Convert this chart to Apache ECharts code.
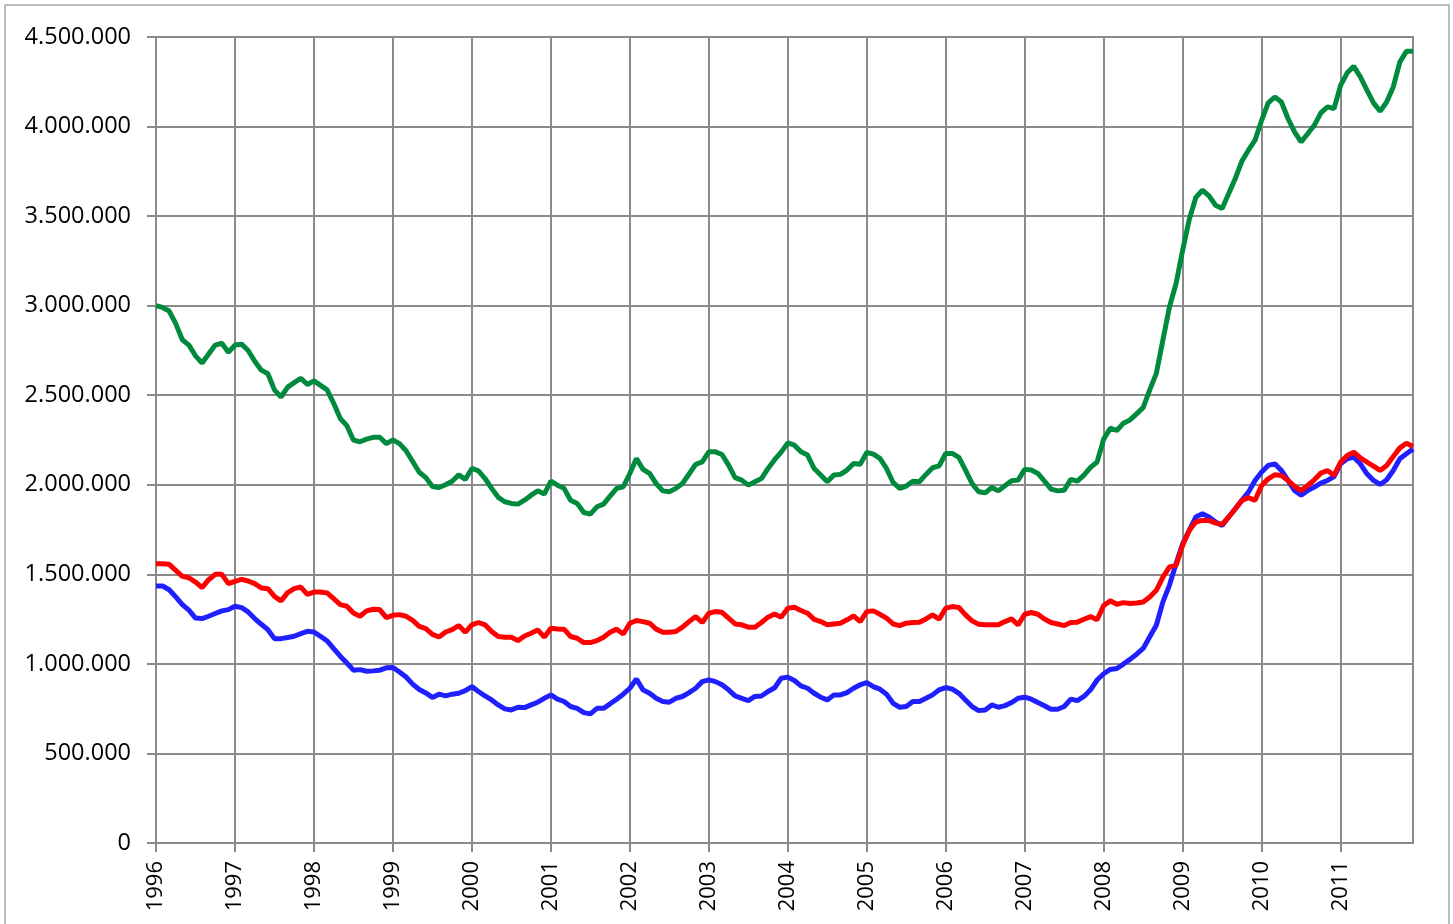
<!DOCTYPE html>
<html>
<head>
<meta charset="utf-8">
<script src="https://cdn.jsdelivr.net/npm/echarts@6/dist/echarts.min.js"></script>
<style>
html,body{margin:0;padding:0;background:#fff;}
#c{width:1453px;height:924px;}
</style>
</head>
<body>
<div id="c"></div>
<script>
// Monthly data, Jan 1996 .. Dec 2011 (values in thousands)
const startYear = 1996;
const endYear = 2011;

const greenSeries = [
3000,2990,2970,2900,2810,2780,2720,2680,2730,2780,2790,2740,
2780,2785,2750,2690,2640,2620,2530,2490,2545,2570,2595,2560,
2580,2555,2530,2455,2370,2330,2250,2240,2255,2265,2265,2230,
2250,2230,2190,2130,2070,2040,1990,1985,2000,2020,2055,2030,
2091,2078,2035,1980,1930,1905,1896,1892,1914,1942,1966,1948,
2020,1998,1980,1914,1896,1845,1836,1877,1892,1937,1980,1989,
2063,2147,2086,2063,2007,1966,1961,1980,2007,2060,2114,2128,
2184,2184,2169,2110,2040,2026,1998,2017,2035,2091,2140,2182,
2234,2221,2184,2166,2091,2054,2017,2054,2058,2082,2119,2115,
2180,2171,2147,2091,2013,1980,1993,2020,2017,2058,2095,2106,
2175,2175,2153,2082,2007,1961,1955,1985,1966,1994,2022,2026,
2086,2082,2063,2020,1976,1966,1970,2030,2020,2054,2097,2127,
2255,2316,2303,2344,2362,2396,2431,2530,2622,2808,2994,3124,
3310,3481,3604,3645,3613,3561,3543,3626,3710,3807,3868,3924,
4035,4132,4165,4137,4045,3970,3914,3960,4007,4076,4110,4100,
4230,4300,4336,4277,4203,4132,4085,4137,4221,4360,4420,4420
];

const redSeries = [
1559,1559,1556,1522,1489,1481,1457,1426,1470,1500,1500,1448,
1461,1472,1463,1448,1424,1420,1377,1351,1398,1420,1429,1388,
1401,1401,1396,1364,1331,1322,1284,1266,1296,1305,1303,1258,
1271,1275,1266,1243,1210,1197,1165,1150,1178,1191,1214,1177,
1218,1231,1218,1181,1153,1149,1149,1130,1156,1171,1190,1149,
1199,1195,1194,1153,1143,1119,1119,1130,1149,1177,1194,1167,
1227,1242,1236,1227,1194,1177,1177,1181,1205,1236,1264,1231,
1283,1292,1288,1255,1223,1218,1205,1205,1231,1261,1279,1261,
1311,1316,1298,1283,1249,1236,1218,1223,1227,1246,1268,1236,
1292,1296,1277,1255,1223,1214,1227,1231,1233,1251,1274,1249,
1311,1320,1315,1274,1240,1221,1218,1218,1218,1236,1251,1218,
1277,1287,1277,1251,1231,1223,1214,1231,1233,1249,1264,1247,
1326,1352,1333,1342,1337,1340,1346,1374,1411,1485,1541,1550,
1662,1745,1792,1801,1801,1786,1779,1820,1866,1913,1928,1913,
1996,2033,2056,2052,2024,1991,1968,1996,2028,2065,2080,2052,
2126,2164,2182,2150,2126,2104,2080,2108,2158,2206,2232,2214
];

const blueSeries = [
1435,1435,1414,1374,1331,1300,1256,1253,1266,1281,1296,1303,
1322,1314,1290,1253,1221,1191,1141,1141,1147,1154,1169,1182,
1178,1154,1128,1085,1043,1005,965,968,959,961,965,978,
980,955,927,887,857,838,812,831,821,831,836,851,
873,846,821,799,771,749,743,758,756,771,786,808,
827,803,790,762,752,728,721,752,752,777,803,831,
864,916,855,836,808,790,786,808,818,840,864,901,
911,901,883,855,821,808,795,818,821,846,867,920,
926,907,877,864,836,814,799,827,827,840,864,883,
896,873,859,831,780,758,762,790,790,808,827,855,
868,859,836,799,762,739,743,771,758,767,784,808,
814,803,784,766,747,747,762,803,795,818,855,910,
945,969,974,999,1025,1054,1086,1151,1216,1346,1440,1560,
1670,1745,1820,1838,1820,1792,1773,1820,1866,1913,1959,2024,
2071,2108,2117,2080,2024,1968,1941,1968,1987,2009,2024,2046,
2117,2145,2154,2117,2061,2024,2002,2028,2080,2145,2173,2200
];

const yTicks = [0, 500000, 1000000, 1500000, 2000000, 2500000, 3000000, 3500000, 4000000, 4500000];

const months = [];
for (let y = startYear; y <= endYear; y++) {
  for (let m = 1; m <= 12; m++) months.push(y + '-' + (m < 10 ? '0' + m : m));
}
const scale = v => v * 1000;

function fmt(v) {
  return String(Math.round(v)).replace(/\B(?=(\d{3})+(?!\d))/g, '.');
}
const yearOnly = (idx) => idx % 12 === 0;

const chart = echarts.init(document.getElementById('c'), null, {renderer: 'canvas'});
const gridColor = '#8a8a8a';
chart.setOption({
  animation: false,
  backgroundColor: '#ffffff',
  graphic: [{
    type: 'rect',
    shape: {x: 5, y: 5, width: 1444, height: 940},
    style: {fill: 'none', stroke: '#a6a6a6', lineWidth: 1.5},
    silent: true
  }],
  grid: {
    left: 156, right: 40, top: 37, bottom: 81,
    show: true, borderColor: gridColor, borderWidth: 2, backgroundColor: 'transparent'
  },
  xAxis: {
    type: 'category',
    data: months,
    boundaryGap: false,
    axisLine: {lineStyle: {color: gridColor, width: 2}},
    axisTick: {show: true, interval: (i) => yearOnly(i), length: 9, lineStyle: {color: gridColor, width: 2}},
    splitLine: {show: true, interval: (i) => yearOnly(i), lineStyle: {color: gridColor, width: 2}},
    axisLabel: {
      interval: (i) => yearOnly(i),
      rotate: 90,
      margin: 18,
      color: '#000',
      fontFamily: 'Open Sans',
      fontSize: 22,
      formatter: (v) => v.slice(0, 4)
    }
  },
  yAxis: {
    type: 'value',
    min: yTicks[0],
    max: yTicks[yTicks.length - 1],
    interval: yTicks[1] - yTicks[0],
    axisLine: {show: true, lineStyle: {color: gridColor, width: 2}},
    axisTick: {show: true, length: 9, lineStyle: {color: gridColor, width: 2}},
    splitLine: {show: true, lineStyle: {color: gridColor, width: 2}},
    axisLabel: {
      margin: 25,
      color: '#000',
      fontFamily: 'Open Sans',
      fontSize: 23.5,
      formatter: fmt
    }
  },
  series: [
    {type: 'line', data: greenSeries.map(scale), showSymbol: false, symbol: 'none',
     lineStyle: {color: '#008a3e', width: 5}, itemStyle: {color: '#008a3e'}},
    {type: 'line', data: blueSeries.map(scale), showSymbol: false, symbol: 'none',
     lineStyle: {color: '#1f1fff', width: 5}, itemStyle: {color: '#1f1fff'}},
    {type: 'line', data: redSeries.map(scale), showSymbol: false, symbol: 'none',
     lineStyle: {color: '#ff0000', width: 5}, itemStyle: {color: '#ff0000'}}
  ]
});
</script>
</body>
</html>
